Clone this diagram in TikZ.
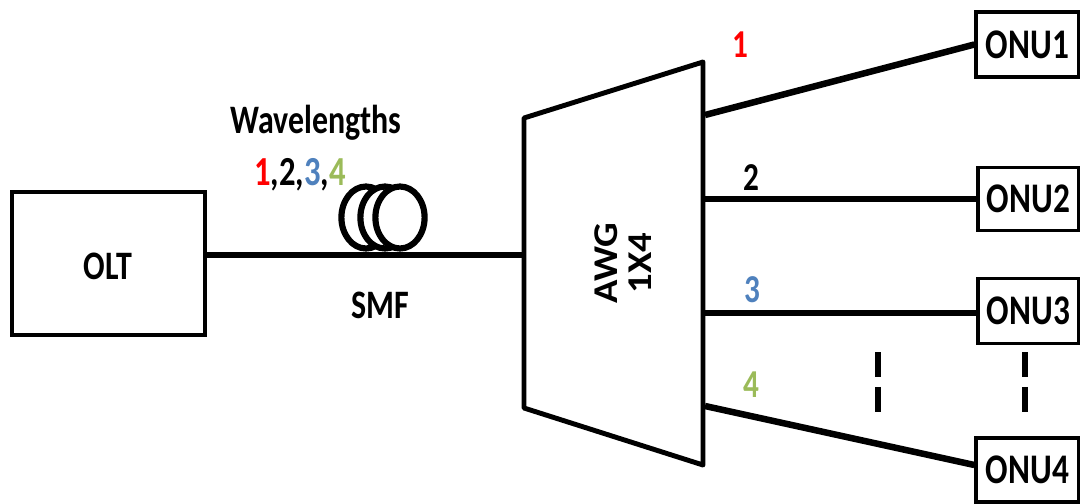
\documentclass[tikz,border=0pt]{standalone}
\usepackage{fontspec}
\setmainfont{Carlito}[BoldFont={Carlito Bold}]
\newfontfamily\labelfont{Carlito}[FakeStretch=0.79]
\usetikzlibrary{calc}
\definecolor{lamred}{HTML}{FF0000}
\definecolor{lamblue}{HTML}{4F81BD}
\definecolor{lamgreen}{HTML}{9BBB59}
\tikzset{
  txt/.style={font=\labelfont\bfseries\fontsize{23}{26}\selectfont, inner sep=0pt, anchor=base},
  numtxt/.style={font=\labelfont\bfseries\fontsize{22.5}{26}\selectfont, inner sep=0pt, anchor=base},
  fiber/.style={line width=3.7pt},
  unit/.style={draw, line width=1.9pt, fill=white, inner sep=0pt,
    font=\labelfont\bfseries\fontsize{24}{26}\selectfont},
  coil/.style={line width=3.5pt, fill=white},
  dashmark/.style={line width=3.7pt, dash pattern=on 14.2pt off 5.7pt}
}
\begin{document}
\begin{tikzpicture}[x=0.02cm,y=-0.02cm]
\useasboundingbox (0,0) rectangle (1080,504);

% optical line terminal
\node[unit, line width=2.8pt, minimum width=3.86cm, minimum height=2.86cm] (olt) at (108.5,263.5) {};
\node[txt] (oltlbl) at (108,279) {OLT};

% arrayed waveguide grating (trapezoid)
\draw[line width=2.8pt, line join=round] (524,118) -- (703,62) -- (703,465) -- (524,408) -- cycle;
\coordinate (awgin) at (524,255);
\coordinate (awg1) at (705,115);
\coordinate (awg2) at (703,199);
\coordinate (awg3) at (703,313);
\coordinate (awg4) at (705,406);
\node[rotate=90, inner sep=0pt, align=center,
  font=\bfseries\fontsize{22}{21.5}\selectfont] (awglbl) at (623,263)
  {\scalebox{1}[0.9]{AWG}\\[-2pt]\scalebox{1}[0.9]{1X4}};

% feeder fibre
\draw[fiber] (olt.east |- awgin) -- (awgin);

% fibre spool
\draw[coil] (366,217.5) ellipse [x radius=24.6, y radius=31];
\draw[coil] (385,217.5) ellipse [x radius=24.6, y radius=31];
\draw[coil] (400,217.5) ellipse [x radius=24.6, y radius=31];

\node[font=\labelfont\bfseries\fontsize{23}{26}\selectfont, inner sep=0pt, anchor=base] (wl) at (316,133) {Wavelengths};
\node[numtxt, font=\labelfont\bfseries\fontsize{23.5}{26}\selectfont] (wlnums) at (300,185) {\textcolor{lamred}{1},2,\textcolor{lamblue}{3},\textcolor{lamgreen}{4}};
\node[txt] (smf) at (380,318) {SMF};

% optical network units
\node[unit, minimum width=2.06cm, minimum height=1.30cm] (onu1) at (1027.5,44.5) {ONU1};
\node[unit, minimum width=2.02cm, minimum height=1.26cm] (onu2) at (1028.5,199) {ONU2};
\node[unit, minimum width=2.02cm, minimum height=1.30cm] (onu3) at (1028.5,311) {ONU3};
\node[unit, minimum width=2.06cm, minimum height=1.28cm] (onu4) at (1027.5,470) {ONU4};

% distribution fibres
\draw[fiber] (awg1) -- (onu1.west);
\draw[fiber] (awg2) -- (awg2 -| onu2.west);
\draw[fiber] (awg3) -- (awg3 -| onu3.west);
\draw[fiber] (awg4) -- ($(onu4.west)+(0,-5)$);

% wavelength labels
\node[numtxt, text=lamred] (l1) at (740,57) {1};
\node[numtxt] (l2) at (751,190) {2};
\node[numtxt, text=lamblue] (l3) at (752,302) {3};
\node[numtxt, text=lamgreen] (l4) at (751,397) {4};

% continuation marks
\coordinate (d1a) at (878,352);
\coordinate (d1b) at (878,412);
\coordinate (d2a) at (1025,352);
\coordinate (d2b) at (1025,412);
\draw[dashmark] (d1a) -- (d1b);
\draw[dashmark] (d2a) -- (d2b);
\end{tikzpicture}
\end{document}
